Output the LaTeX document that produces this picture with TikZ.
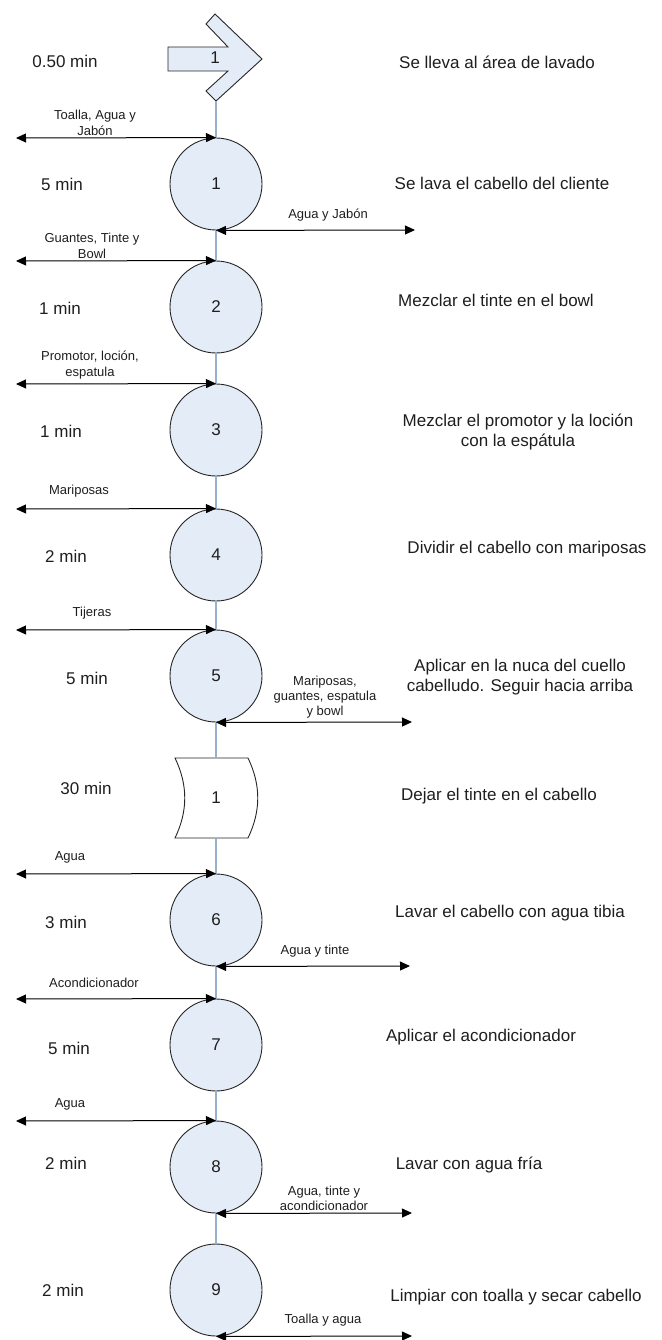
\documentclass[tikz,border=0pt]{standalone}
\usepackage{fontspec}
\setmainfont{Liberation Sans}
\usetikzlibrary{arrows.meta}
\definecolor{fillblue}{RGB}{228,236,247}
\definecolor{linkblue}{RGB}{150,176,205}
\definecolor{txt}{RGB}{30,30,30}
\begin{document}
\begin{tikzpicture}[x=1pt,y=-1pt,
  proc/.style={circle,draw=black!85,line width=0.9pt,fill=fillblue,minimum size=92pt,inner sep=0pt,font=\fontsize{17}{20}\selectfont,text=txt},
  big/.style={font=\fontsize{17}{20}\selectfont,text=txt,inner sep=0pt,align=center},
  small/.style={font=\fontsize{13}{16}\selectfont,text=txt,inner sep=0pt,align=center},
  smalltight/.style={font=\fontsize{13}{15}\selectfont,text=txt,inner sep=0pt,align=center},
  link/.style={draw=linkblue,line width=1.3pt},
  flow/.style={{Triangle[length=10pt,width=9pt]}-{Triangle[length=10pt,width=9pt]},line width=1pt,draw=black},
  shapeline/.style={draw=black!85,line width=0.9pt}
]
\useasboundingbox (0,0) rectangle (661,1340);

% transport arrow
\draw[shapeline,fill=fillblue] (168,47) -- (228,47) -- (206,24) -- (215,14) -- (262,59) -- (216,101) -- (206,91) -- (228,71) -- (168,71) -- cycle;
\node[big] (a0) at (215,58) {1};
\coordinate (a0b) at (216,101);

% operation circles
\node[proc] (c1) at (216,184) {1};
\node[proc] (c2) at (216,307) {2};
\node[proc] (c3) at (216,430) {3};
\node[proc] (c4) at (216,555) {4};
\node[proc] (c5) at (216,676) {5};
\node[proc] (c6) at (216,920) {6};
\node[proc] (c7) at (216,1045) {7};
\node[proc] (c8) at (216,1167) {8};
\node[proc] (c9) at (216,1290) {9};

% delay shape
\draw[shapeline,fill=white] (175,758) -- (248,758) .. controls (261,785) and (261,811) .. (248,838) -- (175,838) .. controls (188,811) and (188,785) .. (175,758) -- cycle;
\node[big,minimum height=80pt] (d1) at (216,798) {1};

% vertical links
\draw[link] (a0b) -- (c1.north);
\draw[link] (c1.south) -- (c2.north);
\draw[link] (c2.south) -- (c3.north);
\draw[link] (c3.south) -- (c4.north);
\draw[link] (c4.south) -- (c5.north);
\draw[link] (c5.south) -- (d1.north);
\draw[link] (d1.south) -- (c6.north);
\draw[link] (c6.south) -- (c7.north);
\draw[link] (c7.south) -- (c8.north);
\draw[link] (c8.south) -- (c9.north);

% times
\node[big] (t0) at (65,61) {0.50 min};
\node[big] (t1) at (62,184) {5 min};
\node[big] (t2) at (60,308) {1 min};
\node[big] (t3) at (61,431) {1 min};
\node[big] (t4) at (66,556) {2 min};
\node[big] (t5) at (87,678) {5 min};
\node[big] (t6) at (86,788) {30 min};
\node[big] (t7) at (66,922) {3 min};
\node[big] (t8) at (69,1048) {5 min};
\node[big] (t9) at (66,1163) {2 min};
\node[big] (t10) at (63,1290) {2 min};

% descriptions
\node[big] (r0) at (497,62) {Se lleva al área de lavado};
\node[big] (r1) at (502,183) {Se lava el cabello del cliente};
\node[big] (r2) at (496,300) {Mezclar el tinte en el bowl};
\node[big] (r3) at (518,432) {Mezclar el promotor y la loción\\con la espátula};
\node[big] (r4) at (527,549) {Dividir el cabello con mariposas};
\node[big] (r5) at (520,677) {Aplicar en la nuca del cuello\\cabelludo. Seguir hacia arriba};
\node[big] (r6) at (499,796) {Dejar el tinte en el cabello};
\node[big] (r7) at (510,913) {Lavar el cabello con agua tibia};
\node[big] (r8) at (481,1037) {Aplicar el acondicionador};
\node[big] (r9) at (469,1165) {Lavar con agua fría};
\node[big] (r10) at (516,1297) {Limpiar con toalla y secar cabello};

% left input arrows
\coordinate (l1) at (16,138);
\coordinate (l2) at (16,261);
\coordinate (l3) at (16,384);
\coordinate (l4) at (16,509);
\coordinate (l5) at (16,630);
\coordinate (l6) at (16,874);
\coordinate (l7) at (16,999);
\coordinate (l8) at (16,1121);
\draw[flow] (l1) -- (c1.north);
\draw[flow] (l2) -- (c2.north);
\draw[flow] (l3) -- (c3.north);
\draw[flow] (l4) -- (c4.north);
\draw[flow] (l5) -- (c5.north);
\draw[flow] (l6) -- (c6.north);
\draw[flow] (l7) -- (c7.north);
\draw[flow] (l8) -- (c8.north);
\node[small] (la1) at (95,123) {Toalla, Agua y\\Jabón};
\node[small] (la2) at (92,246) {Guantes, Tinte y\\Bowl};
\node[small] (la3) at (90,365) {Promotor, loción,\\espatula};
\node[small] (la4) at (79,491) {Mariposas};
\node[small] (la5) at (92,613) {Tijeras};
\node[small] (la6) at (70,857) {Agua};
\node[small] (la7) at (94,983) {Acondicionador};
\node[small] (la8) at (70,1104) {Agua};

% right output arrows
\coordinate (o1) at (415,230);
\coordinate (o5) at (412,722);
\coordinate (o6) at (410,966);
\coordinate (o8) at (412,1213);
\coordinate (o9) at (412,1336);
\draw[flow] (c1.south) -- (o1);
\draw[flow] (c5.south) -- (o5);
\draw[flow] (c6.south) -- (o6);
\draw[flow] (c8.south) -- (o8);
\draw[flow] (c9.south) -- (o9);
\node[small] (lo1) at (328,215) {Agua y Jabón};
\node[smalltight] (lo5) at (325,697) {Mariposas,\\guantes, espatula\\y bowl};
\node[small] (lo6) at (315,951) {Agua y tinte};
\node[smalltight] (lo8) at (324,1198) {Agua, tinte y\\acondicionador};
\node[small] (lo9) at (323,1320) {Toalla y agua};
\end{tikzpicture}
\end{document}
